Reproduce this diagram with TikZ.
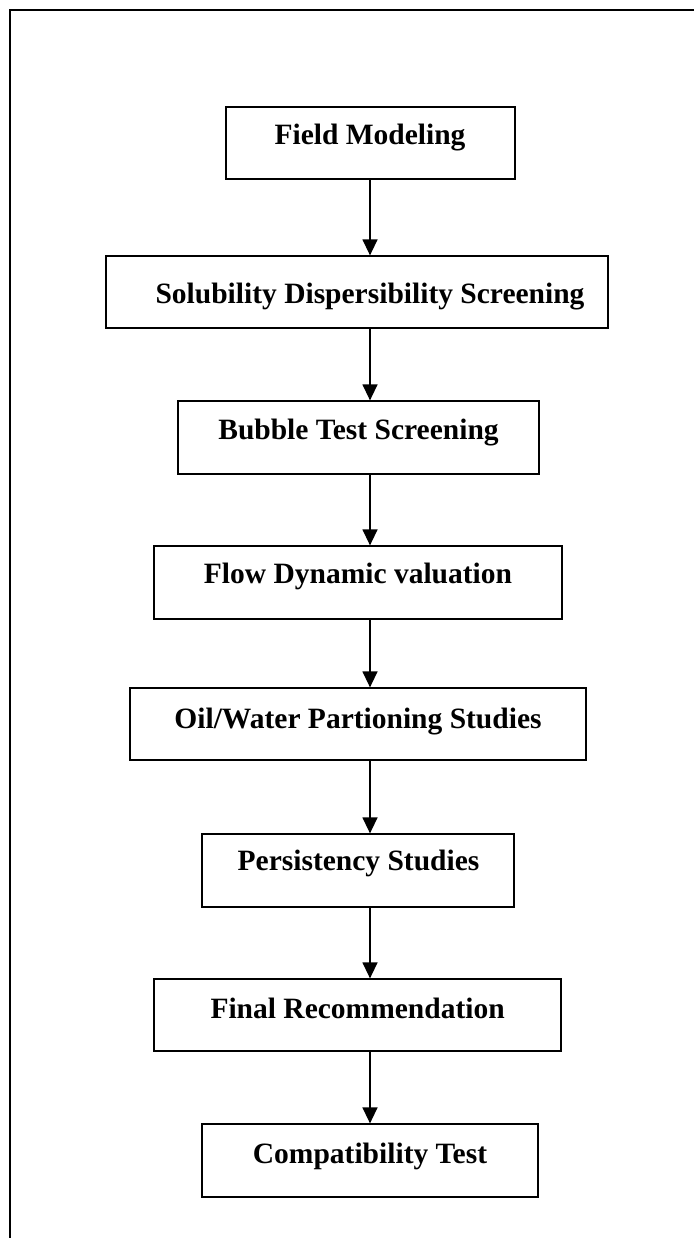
\documentclass[tikz,border=0pt]{standalone}
\usepackage{fontspec}
\setmainfont{Liberation Serif}
\usetikzlibrary{arrows.meta}
\def\u{0.4pt}
\tikzset{
  box/.style={draw, line width=0.5pt, rectangle, inner sep=0pt, fill=none},
  lbl/.style={anchor=base, inner sep=0pt, font=\fontsize{11.8}{14}\selectfont\bfseries},
  arr/.style={line width=0.55pt, -{Triangle[length=6.4pt,width=6pt]}},
  frame/.style={line width=0.9pt}
}
\begin{document}
\begin{tikzpicture}[x=0.4pt,y=-0.4pt]
\useasboundingbox (0,0) rectangle (694,1238);
% outer frame (top and left only)
\coordinate (ftr) at (694,10);
\coordinate (ftl) at (10,10);
\coordinate (fbl) at (10,1238);
\draw[frame] (ftr) -- (ftl) -- (fbl);
% boxes: centre x = (l+r)/2, centre y = (t+b)/2
\node[box, minimum width=289*\u, minimum height=72*\u] (b1) at (370.5,143) {};
\node[box, minimum width=502*\u, minimum height=72*\u] (b2) at (357,292) {};
\node[box, minimum width=361*\u, minimum height=73*\u] (b3) at (358.5,437.5) {};
\node[box, minimum width=408*\u, minimum height=73*\u] (b4) at (358,582.5) {};
\node[box, minimum width=456*\u, minimum height=72*\u] (b5) at (358,724) {};
\node[box, minimum width=312*\u, minimum height=73*\u] (b6) at (358,870.5) {};
\node[box, minimum width=407*\u, minimum height=72*\u] (b7) at (357.5,1015) {};
\node[box, minimum width=336*\u, minimum height=73*\u] (b8) at (370,1160.5) {};
% labels
\node[lbl] (t1) at (370,145) {Field Modeling};
\node[lbl] (t2) at (370,303) {Solubility Dispersibility Screening};
\node[lbl] (t3) at (358.5,439) {Bubble Test Screening};
\node[lbl] (t4) at (358,583) {Flow Dynamic valuation};
\node[lbl] (t5) at (358,728) {Oil/Water Partioning Studies};
\node[lbl] (t6) at (358.5,870) {Persistency Studies};
\node[lbl] (t7) at (357.6,1018) {Final Recommendation};
\node[lbl] (t8) at (370,1163) {Compatibility Test};
% arrows along x = 370
\coordinate (ax) at (370,0);
\draw[arr] (b1.south -| ax) -- (b2.north -| ax);
\draw[arr] (b2.south -| ax) -- (b3.north -| ax);
\draw[arr] (b3.south -| ax) -- (b4.north -| ax);
\draw[arr] (b4.south -| ax) -- (b5.north -| ax);
\draw[arr] (b5.south -| ax) -- (b6.north -| ax);
\draw[arr] (b6.south -| ax) -- (b7.north -| ax);
\draw[arr] (b7.south -| ax) -- (b8.north -| ax);
\end{tikzpicture}
\end{document}
